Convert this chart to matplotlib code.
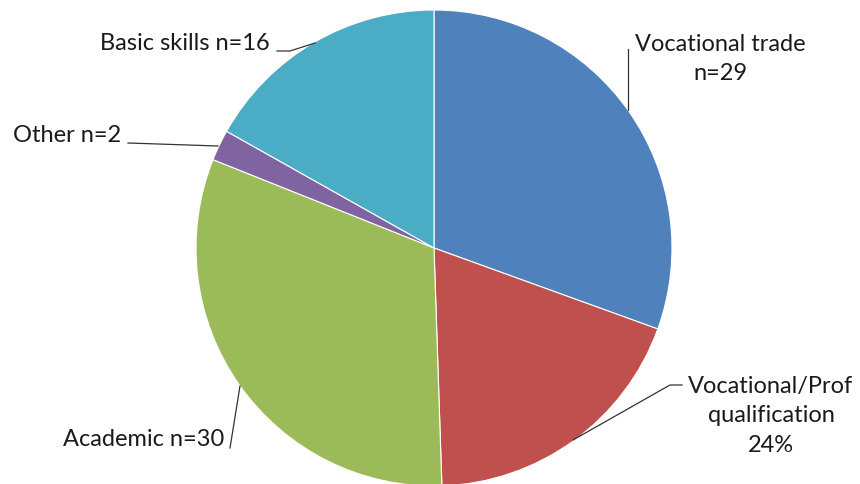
import matplotlib
matplotlib.use("Agg")
import matplotlib.pyplot as plt
import numpy as np

categories = ["Vocational trade", "Vocational/Prof qualification", "Academic", "Other", "Basic skills"]
values = [29, 18, 30, 2, 16]
labels = ["Vocational trade\nn=29", "Vocational/Prof\nqualification\n24%", "Academic n=30", "Other n=2", "Basic skills n=16"]
colors = ["#4F81BD", "#C0504D", "#9BBB59", "#8064A2", "#4BACC6"]

W, H = 860, 484
CX, CY, R = 434, 248, 238

def px(x, y):
    return ((x - CX) / R, (CY - y) / R)

fig = plt.figure(figsize=(W / 100, H / 100), dpi=100)
ax = fig.add_axes([0, 0, 1, 1])
ax.pie(values, colors=colors, startangle=90, counterclock=False, radius=1,
       wedgeprops=dict(edgecolor="white", linewidth=0.8))
x0, y0 = px(0, H)
x1, y1 = px(W, 0)
ax.set_xlim(x0, x1)
ax.set_ylim(y0, y1)
ax.set_aspect("equal")
ax.axis("off")

font = dict(family="Lato", fontsize=17, color="#1a1a1a")

# label text positions (pixel centers) and leader paths (pixel points)
text_pos = [(720, 59), (771, 416), (144, 440), (67, 135), (185, 43)]
leaders = [
    [(628, 49), (628, 110)],
    [(682, 385), (670, 385), (573, 440)],
    [(230, 448), (240, 386)],
    [(128, 143), (218, 146)],
    [(277, 51), (290, 51), (315, 43)],
]

for lab, (tx, ty), path in zip(labels, text_pos, leaders):
    dx, dy = px(tx, ty)
    ax.text(dx, dy, lab, ha="center", va="center", linespacing=1.5, **font)
    pts = np.array([px(a, b) for a, b in path])
    ax.plot(pts[:, 0], pts[:, 1], color="#333333", lw=0.9)

fig.savefig("out.png", dpi=100)
